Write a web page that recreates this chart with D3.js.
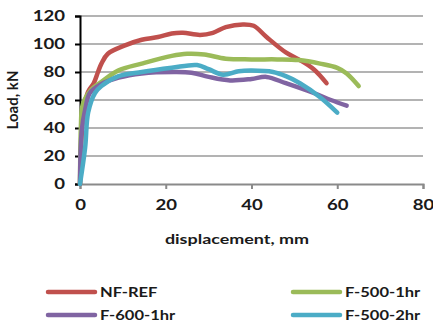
<!DOCTYPE html>
<html>
<head>
<meta charset="utf-8">
<script src="https://cdn.jsdelivr.net/npm/d3@7"></script>
<style>
  body { margin: 0; background: #fff; }
  text { font-family: Lato, "Open Sans", sans-serif; font-weight: bold; fill: #1a1a1a; }
</style>
</head>
<body>
<div id="chart"></div>
<script>
// load-displacement curves: [displacement mm, load kN]
const nfRef = [[0,0],[0.5,40],[1.2,58],[1.9,66],[3.2,72],[4.2,80],[5,86],[6.5,93],[10.5,99],[14.4,103],[18.2,105],[21.4,107.5],[24,108],[28,106.5],[31,108],[34,112],[38,114],[40.5,113],[43.5,105],[48,94],[51,89],[54.5,82],[57.5,72]];
const f5001 = [[0,0],[0.2,40],[0.5,55],[1.2,61],[2.5,67],[5,73],[8.9,81],[14.4,86],[21.4,91.5],[25,93],[29,92.5],[34,89.5],[40,89],[46,89],[51,88.5],[56,86],[60,83],[62.2,79],[65,70]];
const f6001 = [[0,0],[0.4,38],[1.2,53],[2.3,65],[4.7,71],[9,76],[14.4,79],[22,80],[26,79.5],[30,76.5],[35,74],[40,75],[43.5,76.5],[48,72],[54.5,65],[58.5,60],[62.2,56]];
const f5002 = [[0,0],[1.2,26],[1.9,51],[3.5,65],[5,70],[9,77],[14.4,80],[21.4,83],[27.3,85],[30,82],[33.4,78],[37,80.5],[40,81],[45,80],[48,77],[51.3,72],[56,62],[60,51]];

const seriesNames = ["NF-REF", "F-500-1hr", "F-600-1hr", "F-500-2hr"];
const seriesData = [nfRef, f5001, f6001, f5002];
const colors = ["#C0504D", "#9BBB59", "#8064A2", "#4BACC6"];
const xTicks = [0, 20, 40, 60, 80];
const yTicks = [0, 20, 40, 60, 80, 100, 120];

const W = 433, H = 327;
const m = { left: 80, top: 16 };
const plotW = 343, plotH = 168;
const stretchX = 1.28; // the picture's text is widened horizontally

const svg = d3.select("#chart").append("svg")
  .attr("width", W).attr("height", H);

const x = d3.scaleLinear().domain([0, 80]).range([m.left, m.left + plotW]);
const y = d3.scaleLinear().domain([0, 120]).range([m.top + plotH, m.top]);

function widen(sel, k = stretchX) {
  sel.each(function() {
    const w = this.getComputedTextLength();
    d3.select(this).attr("textLength", w * k).attr("lengthAdjust", "spacingAndGlyphs");
  });
}

// gridlines
svg.append("g").selectAll("line").data(yTicks.filter(d => d > 0)).join("line")
  .attr("x1", x(0)).attr("x2", x(80))
  .attr("y1", d => y(d)).attr("y2", d => y(d))
  .attr("stroke", "#9a9a9a").attr("stroke-width", 1.5);

// x axis
const xAxis = svg.append("g")
  .attr("transform", `translate(0,${y(0)})`)
  .call(d3.axisBottom(x).tickValues(xTicks).tickSize(5).tickPadding(11));
xAxis.select(".domain").attr("stroke", "#8a8a8a").attr("stroke-width", 2);
xAxis.selectAll(".tick line").attr("stroke", "#8a8a8a").attr("stroke-width", 2);
xAxis.selectAll("text").attr("font-size", 14.5).attr("font-family", "Lato, sans-serif")
  .attr("font-weight", "bold").attr("fill", "#1a1a1a").call(widen);

// y axis
const yAxis = svg.append("g")
  .attr("transform", `translate(${x(0)},0)`)
  .call(d3.axisLeft(y).tickValues(yTicks).tickSize(5).tickPadding(10));
yAxis.select(".domain").attr("stroke", "#000").attr("stroke-width", 2);
yAxis.selectAll(".tick line").attr("stroke", "#000").attr("stroke-width", 2);
yAxis.selectAll("text").attr("font-size", 14.5).attr("font-family", "Lato, sans-serif")
  .attr("font-weight", "bold").attr("fill", "#1a1a1a").call(widen);

const line = d3.line()
  .x(d => x(d[0]))
  .y(d => y(d[1]))
  .curve(d3.curveCatmullRom.alpha(0.5));

svg.append("g").selectAll("path").data(seriesData).join("path")
  .attr("d", line)
  .attr("fill", "none")
  .attr("stroke", (d, i) => colors[i])
  .attr("stroke-width", 4.5)
  .attr("stroke-linecap", "round")
  .attr("stroke-linejoin", "round");

// axis titles
svg.append("text")
  .attr("x", 237).attr("y", 244)
  .attr("text-anchor", "middle").attr("font-size", 14)
  .text("displacement, mm").call(widen);

svg.append("text")
  .attr("transform", "translate(18,100) rotate(-90)")
  .attr("text-anchor", "middle").attr("font-size", 15)
  .text("Load, kN");

// legend
const legendPos = [[48, 292], [293, 292], [48, 315], [293, 315]];
const lg = svg.append("g").selectAll("g").data(seriesNames).join("g")
  .attr("transform", (d, i) => `translate(${legendPos[i][0]},${legendPos[i][1]})`);
lg.append("line")
  .attr("x1", 0).attr("x2", 47)
  .attr("stroke", (d, i) => colors[i])
  .attr("stroke-width", 4.5).attr("stroke-linecap", "round");
lg.append("text")
  .attr("x", 52).attr("dy", "0.35em").attr("font-size", 14)
  .text(d => d).call(widen, 1.18);
</script>
</body>
</html>
